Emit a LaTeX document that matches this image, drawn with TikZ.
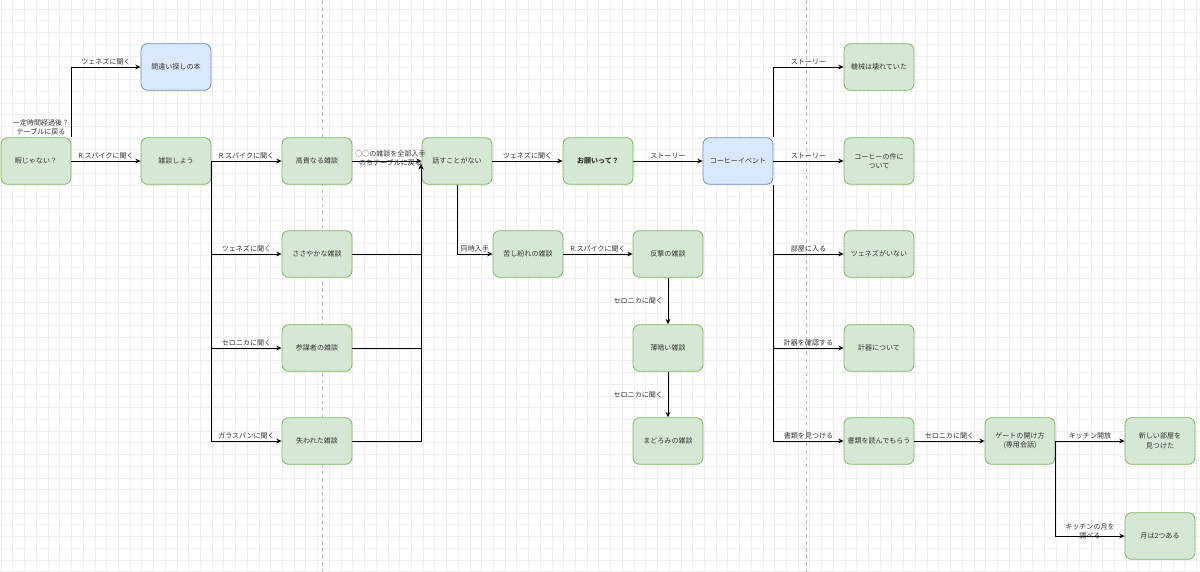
\documentclass[tikz,border=0pt]{standalone}
\usepackage{fontspec}
\newfontfamily\jpfont{Noto Sans CJK JP}
\usetikzlibrary{arrows.meta}
\definecolor{greenfill}{HTML}{D5E8D4}
\definecolor{greenline}{HTML}{82B366}
\definecolor{bluefill}{HTML}{DAE8FC}
\definecolor{blueline}{HTML}{6C8EBF}
\definecolor{txt}{HTML}{333333}
\begin{document}
\begin{tikzpicture}[x=0.03cm,y=-0.03cm,
    font=\jpfont\fontsize{6}{8}\selectfont,
    box/.style={draw=greenline,fill=greenfill,rounded corners=0.2cm,line width=0.7pt,
      minimum width=2.1cm,minimum height=1.4cm,align=center,text=txt,inner sep=1pt},
    bluebox/.style={box,draw=blueline,fill=bluefill},
    arr/.style={-{Stealth[length=4.5pt,width=4pt]},line width=0.75pt},
    lbl/.style={above,text=txt,inner sep=1.5pt,align=center},
    gridline/.style={gray!13,line width=0.4pt}]
  \useasboundingbox (0,0) rectangle (1200,572);
  \fill[white] (0,0) rectangle (1200,572);
  \foreach \i in {0,...,102}
    \draw[gridline] ({1+\i*11.72},0) -- ({1+\i*11.72},572);
  \foreach \j in {0,...,49}
    \draw[gridline] (0,{9+\j*11.72}) -- (1200,{9+\j*11.72});
  \draw[dashed,gray!55,line width=0.5pt] (322,0) -- (322,572);
  \draw[dashed,gray!55,line width=0.5pt] (806,0) -- (806,572);

  \node[box] (hima) at (36,161) {暇じゃない？};
  \node[bluebox] (machigai) at (176,67) {間違い探しの本};
  \node[box] (zatsudan) at (176,161) {雑談しよう};
  \node[box] (kouki) at (317,161) {高貴なる雑談};
  \node[box] (sasayaka) at (317,254) {ささやかな雑談};
  \node[box] (sanbou) at (317,348) {参謀者の雑談};
  \node[box] (ushinawa) at (317,441) {失われた雑談};
  \node[box] (hanasu) at (457,161) {話すことがない};
  \node[box] (kurushi) at (528,254) {苦し紛れの雑談};
  \node[box] (onegai) at (598,161) {\textbf{お願いって？}};
  \node[box] (hangeki) at (668,254) {反撃の雑談};
  \node[box] (usugurai) at (668,348) {薄暗い雑談};
  \node[box] (madoromi) at (668,441) {まどろみの雑談};
  \node[bluebox] (coffee) at (738,161) {コーヒーイベント};
  \node[box] (kikai) at (879,67) {機械は壊れていた};
  \node[box] (coffeeken) at (879,161) {コーヒーの件に\\ついて};
  \node[box] (inai) at (879,254) {ツェネズがいない};
  \node[box] (keiki) at (879,348) {計器について};
  \node[box] (shorui) at (879,441) {書類を読んでもらう};
  \node[box] (gate) at (1020,441) {ゲートの開け方\\(専用会話)};
  \node[box] (newroom) at (1160,441) {新しい部屋を\\見つけた};
  \node[box] (moon) at (1160,536) {月は2つある};
  \coordinate (hin) at (421,164);

  \begin{scope}[arr]
    \draw (hima.north east) |- node[at start,lbl,anchor=south east]{一定時間経過後？\\テーブルに戻る}
      node[pos=0.75,lbl]{ツェネズに聞く} (machigai);
    \draw (hima) -- node[lbl]{R.スパイクに聞く} (zatsudan);
    \draw (zatsudan) -- node[lbl]{R.スパイクに聞く} (kouki);
    \draw (zatsudan.east) |- node[pos=0.75,lbl]{ツェネズに聞く} (sasayaka);
    \draw (zatsudan.east) |- node[pos=0.75,lbl]{セロニカに聞く} (sanbou);
    \draw (zatsudan.east) |- node[pos=0.75,lbl]{ガラスパンに聞く} (ushinawa);
    \draw (kouki) -- node[pos=0.55,text=txt,align=center,inner sep=0pt,yshift=2.5pt]{○○の雑談を全部入手\\のちテーブルに戻る} (hanasu);
    \draw (sasayaka) -| (hin);
    \draw (sanbou) -| (hin);
    \draw (ushinawa) -| (hin);
    \draw (hanasu) -- node[lbl]{ツェネズに聞く} (onegai);
    \draw (hanasu) |- node[pos=0.75,lbl]{同時入手} (kurushi);
    \draw (kurushi) -- node[lbl]{R.スパイクに聞く} (hangeki);
    \draw (hangeki) -- node[left,text=txt,inner sep=4pt]{セロニカに聞く} (usugurai);
    \draw (usugurai) -- node[left,text=txt,inner sep=4pt]{セロニカに聞く} (madoromi);
    \draw (onegai) -- node[lbl]{ストーリー} (coffee);
    \draw (coffee.north east) |- node[pos=0.75,lbl]{ストーリー} (kikai);
    \draw (coffee) -- node[lbl]{ストーリー} (coffeeken);
    \draw (coffee.south east) |- node[pos=0.75,lbl]{部屋に入る} (inai);
    \draw (coffee.south east) |- node[pos=0.75,lbl]{計器を確認する} (keiki);
    \draw (coffee.south east) |- node[pos=0.75,lbl]{書類を見つける} (shorui);
    \draw (shorui) -- node[lbl]{セロニカに聞く} (gate);
    \draw (gate) -- node[lbl]{キッチン開放} (newroom);
    \draw (gate.east) |- node[pos=0.75,text=txt,align=center,inner sep=0pt,yshift=4pt]{キッチンの月を\\調べる} (moon);
  \end{scope}
\end{tikzpicture}
\end{document}
